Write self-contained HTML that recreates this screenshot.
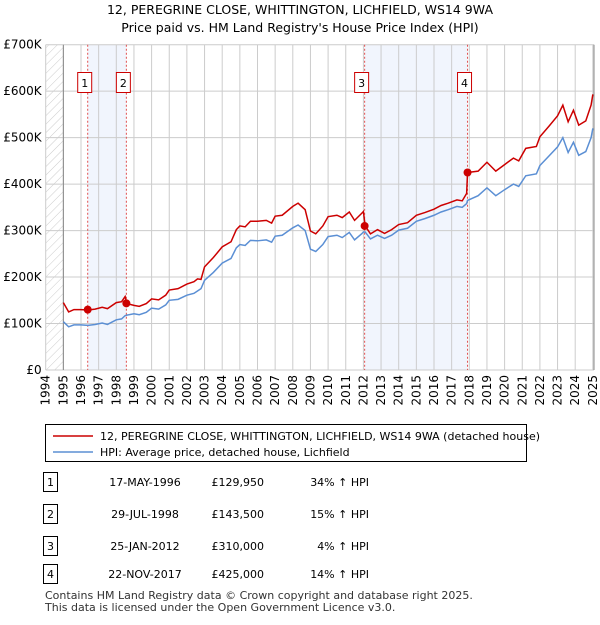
<!DOCTYPE html>
<html><head><meta charset="utf-8"><style>
body{margin:0;width:600px;height:620px;background:#fff;font-family:"Liberation Sans","DejaVu Sans",sans-serif;overflow:hidden}
svg text{font-family:"DejaVu Sans","Liberation Sans",sans-serif}
</style></head><body>
<svg width="600" height="620" id="svg">
<defs><pattern id="hatch" width="6" height="6" patternUnits="userSpaceOnUse" patternTransform="rotate(45)"><line x1="0" y1="0" x2="0" y2="6" stroke="#ccc" stroke-width="1"/></pattern></defs>
<text x="300" y="14" text-anchor="middle" font-size="12.5">12, PEREGRINE CLOSE, WHITTINGTON, LICHFIELD, WS14 9WA</text>
<text x="300" y="32" text-anchor="middle" font-size="12.5">Price paid vs. HM Land Registry's House Price Index (HPI)</text>
<g id="plot"></g>
<g>
<rect x="45.5" y="424.5" width="481" height="37" fill="#fff" stroke="#000"/>
<line x1="53" y1="436" x2="93" y2="436" stroke="#cc0000" stroke-width="1.5"/>
<text x="100" y="440" font-size="11">12, PEREGRINE CLOSE, WHITTINGTON, LICHFIELD, WS14 9WA (detached house)</text>
<line x1="53" y1="452" x2="93" y2="452" stroke="#5b8fd4" stroke-width="1.5"/>
<text x="100" y="456" font-size="11">HPI: Average price, detached house, Lichfield</text>
</g>
<g id="table" font-size="11"></g>
<text x="45" y="599" font-size="11" fill="#333">Contains HM Land Registry data © Crown copyright and database right 2025.</text>
<text x="45" y="611" font-size="11" fill="#333">This data is licensed under the Open Government Licence v3.0.</text>
</svg>
<script>
const years=[1995.0,1995.3,1995.6,1996.0,1996.4,1996.8,1997.2,1997.5,1998.0,1998.3,1998.5,1998.6,1999.0,1999.3,1999.7,2000.0,2000.4,2000.8,2001.0,2001.5,2002.0,2002.4,2002.6,2002.8,2003.0,2003.5,2004.0,2004.5,2004.8,2005.0,2005.3,2005.6,2006.0,2006.5,2006.8,2007.0,2007.4,2008.0,2008.3,2008.7,2009.0,2009.3,2009.7,2010.0,2010.5,2010.8,2011.2,2011.5,2011.9,2012.0,2012.1,2012.4,2012.8,2013.2,2013.6,2014.0,2014.5,2015.0,2015.5,2016.0,2016.4,2016.8,2017.3,2017.6,2017.85,2017.9,2018.5,2019.0,2019.5,2020.0,2020.5,2020.8,2021.2,2021.8,2022.0,2022.5,2023.0,2023.3,2023.6,2023.9,2024.2,2024.6,2024.9,2025.0];
const hpi=[104,93,97,97,96,98,101,98,108,110,117,118,121,119,124,133,131,140,150,152,161,165,170,175,193,210,230,240,263,270,268,279,278,280,275,288,290,306,312,300,260,255,270,287,290,285,296,280,293,297,297,282,290,283,290,301,305,320,326,333,340,345,352,350,358,365,375,392,375,388,400,395,418,422,440,460,480,500,468,490,462,470,500,520];
const red=[145,125,130,130,129,131,135,132,145,147,158,143,139,137,143,153,151,161,172,175,185,190,196,195,222,242,265,276,302,310,308,320,320,322,316,331,333,352,359,345,299,293,310,330,333,328,340,322,337,341,310,293,302,294,302,313,317,333,339,346,354,359,366,364,380,425,428,447,428,442,456,450,477,481,502,524,547,570,534,559,527,536,570,593];
const yTicks=[0,100,200,300,400,500,600,700];
const yTickLabels=["£0","£100K","£200K","£300K","£400K","£500K","£600K","£700K"];
const sales=[1996.38,1998.57,2012.07,2017.9];
const salePrices=[129.95,143.5,310,425];
const saleDates=["17-MAY-1996","29-JUL-1998","25-JAN-2012","22-NOV-2017"];
const salePriceLabels=["£129,950","£143,500","£310,000","£425,000"];
const salePct=["34% ↑ HPI","15% ↑ HPI","4% ↑ HPI","14% ↑ HPI"];
const L=45.7,R=594,T=44.7,B=370;
const X=y=>L+(y-1994)*17.65;
const Y=v=>B-v*(B-T)/700;
const NS="http://www.w3.org/2000/svg";
const g=document.getElementById('plot');
function mk(tag,at,parent){const e=document.createElementNS(NS,tag);for(const k in at)e.setAttribute(k,at[k]);(parent||g).appendChild(e);return e;}
let e=mk('rect',{x:L,y:T,width:R-L,height:B-T,fill:'#fff'});


e=mk('rect',{x:L,y:T,width:X(1995)-L,height:B-T,fill:'url(#hatch)'});


e=mk('rect',{x:X(sales[0]),y:T,width:X(sales[1])-X(sales[0]),height:B-T,fill:'#eef3fc',opacity:0.8});


e=mk('rect',{x:X(sales[2]),y:T,width:X(sales[3])-X(sales[2]),height:B-T,fill:'#eef3fc',opacity:0.8});


for(let yr=1994;yr<=2025;yr++){
 e=mk('line',{x1:X(yr),x2:X(yr),y1:T,y2:B,stroke:'#ccc','stroke-width':1});
 
 
 e=mk('text',{x:0,y:0,'font-size':12,'text-anchor':'end',transform:`translate(${X(yr)+4},${B+5}) rotate(-90)`});
 e.textContent=yr;
 
 
}
yTicks.forEach((v,i)=>{
 e=mk('line',{x1:L,x2:R,y1:Y(v),y2:Y(v),stroke:'#ccc','stroke-width':1});
 
 
 e=mk('text',{x:L-4,y:Y(v)+4,'font-size':12,'text-anchor':'end'});
 e.textContent=yTickLabels[i];
 
 
});
e=mk('line',{x1:X(1995),x2:X(1995),y1:T,y2:B,stroke:'#888'});


e=mk('line',{x1:R,x2:R,y1:T,y2:B,stroke:'#888'});


sales.forEach((s,i)=>{
 e=mk('line',{x1:X(s),x2:X(s),y1:T,y2:B,stroke:'#e05050','stroke-dasharray':'2,2','stroke-width':1});
 
 
});
e=mk('polyline',{points:years.map((y,i)=>X(y)+','+Y(hpi[i])).join(' '),fill:'none',stroke:'#5b8fd4','stroke-width':1.5});


e=mk('polyline',{points:years.map((y,i)=>X(y)+','+Y(red[i])).join(' '),fill:'none',stroke:'#cc0000','stroke-width':1.5});


sales.forEach((s,i)=>{
 e=mk('circle',{cx:X(s),cy:Y(salePrices[i]),r:4,fill:'#cc0000'});
 
 
 const lx=X(s)-10;
 e=mk('rect',{x:lx,y:72.5,width:14,height:20,fill:'#fff',stroke:'#cc0000'});
 
 
 e=mk('text',{x:lx+7,y:87,'font-size':11,'text-anchor':'middle'});
 e.textContent=i+1;
 
 
});
const tb=document.getElementById('table');
const rowsY=[483,515,547,575];
rowsY.forEach((ry,i)=>{
 e=mk('rect',{x:43.5,y:ry-10.5,width:14,height:19,fill:'#fff',stroke:'#000'},tb);
 
 
 e=mk('text',{x:50.5,y:ry+3,'text-anchor':'middle'},tb);e.textContent=i+1;
 
 
 e=mk('text',{x:145,y:ry+3,'text-anchor':'middle'},tb);e.textContent=saleDates[i];
 
 
 e=mk('text',{x:264,y:ry+3,'text-anchor':'end'},tb);e.textContent=salePriceLabels[i];
 
 
 e=mk('text',{x:369,y:ry+3,'text-anchor':'end'},tb);e.textContent=salePct[i];
 
 
});
</script>
</body></html>
